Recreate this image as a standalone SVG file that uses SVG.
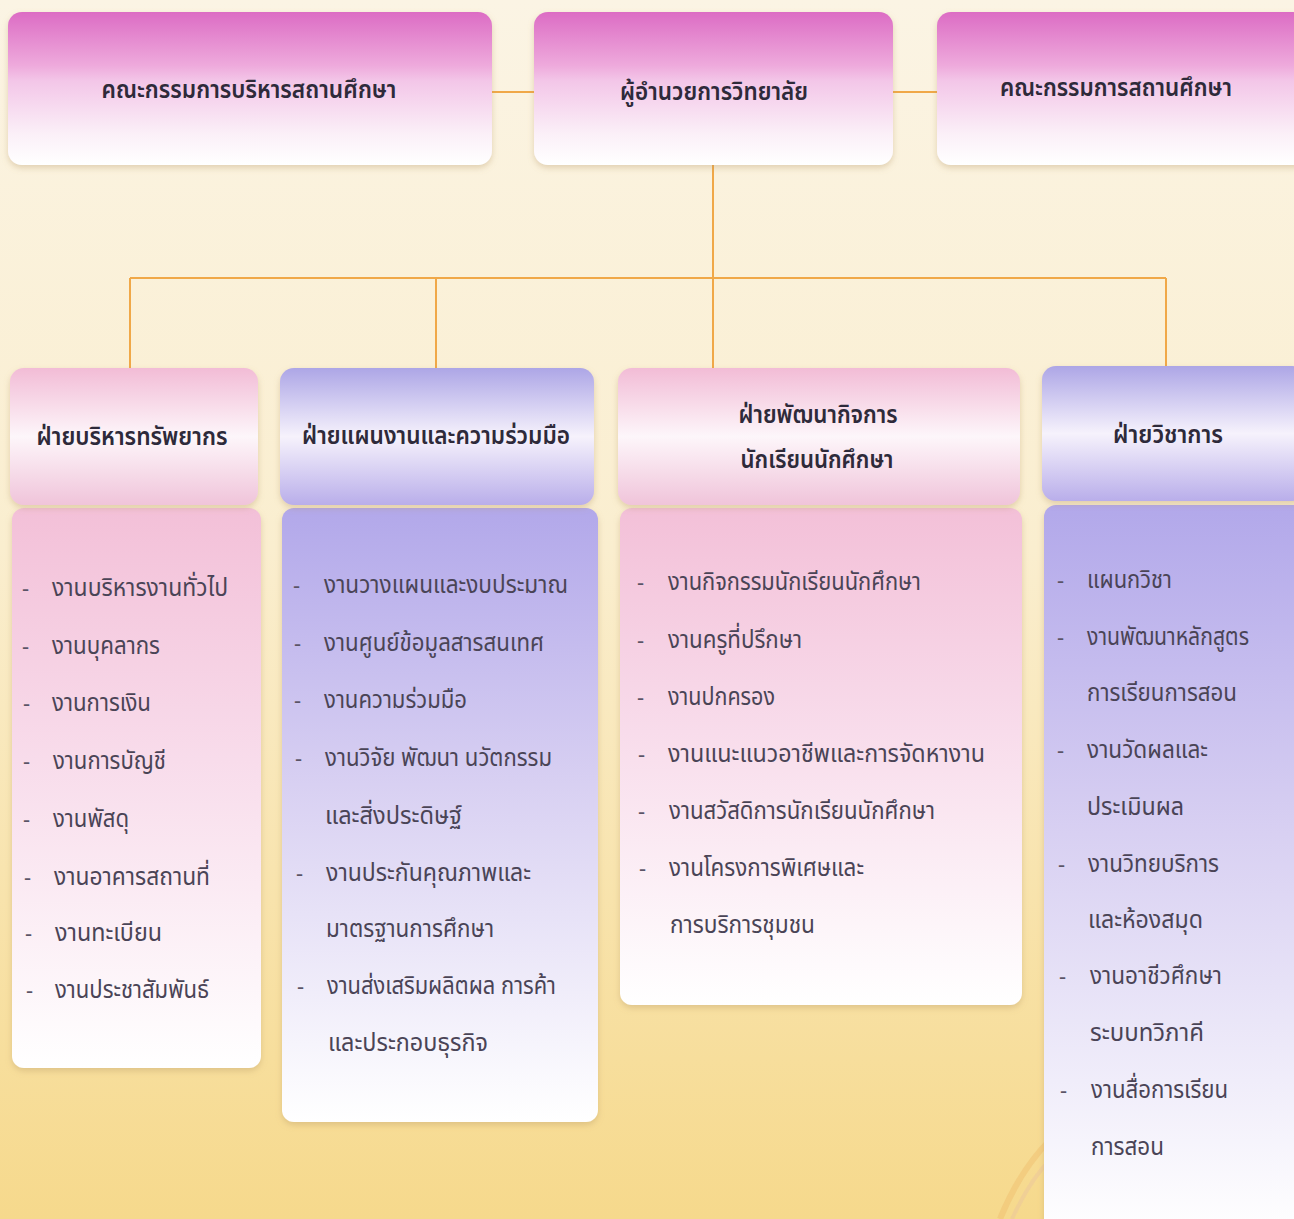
<svg xmlns="http://www.w3.org/2000/svg" width="1294" height="1219" viewBox="0 0 1294 1219">
<defs>
<linearGradient id="bg" x1="0" y1="0" x2="0" y2="1">
<stop offset="0" stop-color="#fbf4e4"/>
<stop offset="0.45" stop-color="#faeecf"/>
<stop offset="1" stop-color="#f6d98c"/>
</linearGradient>
<linearGradient id="gTop" x1="0" y1="0" x2="0" y2="1">
<stop offset="0" stop-color="#dc6cc4"/>
<stop offset="0.35" stop-color="#eeaadc"/>
<stop offset="0.45" stop-color="#f3c6e8"/>
<stop offset="0.8" stop-color="#fbf0f8"/>
<stop offset="1" stop-color="#ffffff"/>
</linearGradient>
<linearGradient id="gHeadPink" x1="0" y1="0" x2="0" y2="1">
<stop offset="0" stop-color="#f2bcd6"/>
<stop offset="0.5" stop-color="#fdf6fa"/>
<stop offset="1" stop-color="#f0c4da"/>
</linearGradient>
<linearGradient id="gHeadLav" x1="0" y1="0" x2="0" y2="1">
<stop offset="0" stop-color="#ada6e6"/>
<stop offset="0.5" stop-color="#f6f2fc"/>
<stop offset="1" stop-color="#b9aeea"/>
</linearGradient>
<linearGradient id="gBodyPink" x1="0" y1="0" x2="0" y2="1">
<stop offset="0" stop-color="#f3c0d8"/>
<stop offset="0.45" stop-color="#f8dceb"/>
<stop offset="1" stop-color="#ffffff"/>
</linearGradient>
<linearGradient id="gBodyLav" x1="0" y1="0" x2="0" y2="1">
<stop offset="0" stop-color="#b2a8ea"/>
<stop offset="0.45" stop-color="#d8d0f2"/>
<stop offset="1" stop-color="#ffffff"/>
</linearGradient>
<filter id="sh" x="-5%" y="-5%" width="110%" height="115%">
<feDropShadow dx="0" dy="3" stdDeviation="3" flood-color="#b09060" flood-opacity="0.35"/>
</filter>
<style>
.conn{stroke:#f0a848;stroke-width:2;fill:none}
.t{font-family:'Noto Sans Thai','Noto Sans','DejaVu Sans',sans-serif;fill:#3a3546}
.top{font-size:25px;font-weight:600;text-anchor:middle;fill:#2e2a3a}
.hd{font-size:25px;font-weight:600;text-anchor:middle;fill:#2e2a3a}
.it{font-size:25px;fill:#4a4456}
.ds{font-size:22px;fill:#5a5466}
</style>
</defs>
<rect x="0" y="0" width="1294" height="1219" fill="url(#bg)"/>
<path d="M1000 1219 Q1020 1170 1050 1140" stroke="#f0c070" stroke-width="6" fill="none" opacity="0.5"/>
<path d="M1012 1219 Q1030 1180 1050 1160" stroke="#e8c0a0" stroke-width="4" fill="none" opacity="0.4"/>

<g id="connectors">
<line class="conn" x1="492" y1="92" x2="534" y2="92"/>
<line class="conn" x1="893" y1="92" x2="937" y2="92"/>
<line class="conn" x1="713" y1="165" x2="713" y2="368"/>
<line class="conn" x1="130" y1="278" x2="1166" y2="278"/>
<line class="conn" x1="130" y1="278" x2="130" y2="370"/>
<line class="conn" x1="436" y1="278" x2="436" y2="368"/>
<line class="conn" x1="1166" y1="278" x2="1166" y2="366"/>
</g>

<g id="board-admin">
<rect x="8" y="12" width="484" height="153" rx="14" fill="url(#gTop)" filter="url(#sh)"/>
<text class="t top" x="249" y="98" textLength="295" lengthAdjust="spacingAndGlyphs">คณะกรรมการบริหารสถานศึกษา</text>
</g>
<g id="director">
<rect x="534" y="12" width="359" height="153" rx="14" fill="url(#gTop)" filter="url(#sh)"/>
<text class="t top" x="714" y="100" textLength="188" lengthAdjust="spacingAndGlyphs">ผู้อำนวยการวิทยาลัย</text>
</g>
<g id="board">
<rect x="937" y="12" width="370" height="153" rx="14" fill="url(#gTop)" filter="url(#sh)"/>
<text class="t top" x="1116" y="96" textLength="232" lengthAdjust="spacingAndGlyphs">คณะกรรมการสถานศึกษา</text>
</g>

<g id="resources">
<rect x="12" y="508" width="249" height="560" rx="12" fill="url(#gBodyPink)" filter="url(#sh)"/>
<rect x="10" y="368" width="248" height="137" rx="14" fill="url(#gHeadPink)" filter="url(#sh)"/>
<text class="t hd" x="132" y="445" textLength="191" lengthAdjust="spacingAndGlyphs">ฝ่ายบริหารทรัพยากร</text>
<g class="t">
<text class="ds" x="22" y="596">-</text><text class="it" x="52" y="596" textLength="176" lengthAdjust="spacingAndGlyphs">งานบริหารงานทั่วไป</text>
<text class="ds" x="22" y="654">-</text><text class="it" x="52" y="654" textLength="108" lengthAdjust="spacingAndGlyphs">งานบุคลากร</text>
<text class="ds" x="23" y="711">-</text><text class="it" x="52" y="711" textLength="99" lengthAdjust="spacingAndGlyphs">งานการเงิน</text>
<text class="ds" x="23" y="769">-</text><text class="it" x="53" y="769" textLength="113" lengthAdjust="spacingAndGlyphs">งานการบัญชี</text>
<text class="ds" x="23" y="827">-</text><text class="it" x="53" y="827" textLength="76" lengthAdjust="spacingAndGlyphs">งานพัสดุ</text>
<text class="ds" x="24" y="885">-</text><text class="it" x="54" y="885" textLength="156" lengthAdjust="spacingAndGlyphs">งานอาคารสถานที่</text>
<text class="ds" x="25" y="941">-</text><text class="it" x="55" y="941" textLength="107" lengthAdjust="spacingAndGlyphs">งานทะเบียน</text>
<text class="ds" x="26" y="998">-</text><text class="it" x="55" y="998" textLength="154" lengthAdjust="spacingAndGlyphs">งานประชาสัมพันธ์</text>
</g>
</g>

<g id="planning">
<rect x="282" y="508" width="316" height="614" rx="12" fill="url(#gBodyLav)" filter="url(#sh)"/>
<rect x="280" y="368" width="314" height="137" rx="14" fill="url(#gHeadLav)" filter="url(#sh)"/>
<text class="t hd" x="436" y="444" textLength="268" lengthAdjust="spacingAndGlyphs">ฝ่ายแผนงานและความร่วมมือ</text>
<g class="t">
<text class="ds" x="293" y="593">-</text><text class="it" x="324" y="593" textLength="244" lengthAdjust="spacingAndGlyphs">งานวางแผนและงบประมาณ</text>
<text class="ds" x="294" y="651">-</text><text class="it" x="324" y="651" textLength="220" lengthAdjust="spacingAndGlyphs">งานศูนย์ข้อมูลสารสนเทศ</text>
<text class="ds" x="294" y="708">-</text><text class="it" x="324" y="708" textLength="143" lengthAdjust="spacingAndGlyphs">งานความร่วมมือ</text>
<text class="ds" x="295" y="766">-</text><text class="it" x="325" y="766" textLength="227" lengthAdjust="spacingAndGlyphs">งานวิจัย พัฒนา นวัตกรรม</text>
<text class="it" x="325" y="824" textLength="137" lengthAdjust="spacingAndGlyphs">และสิ่งประดิษฐ์</text>
<text class="ds" x="296" y="881">-</text><text class="it" x="326" y="881" textLength="205" lengthAdjust="spacingAndGlyphs">งานประกันคุณภาพและ</text>
<text class="it" x="326" y="937" textLength="168" lengthAdjust="spacingAndGlyphs">มาตรฐานการศึกษา</text>
<text class="ds" x="297" y="994">-</text><text class="it" x="327" y="994" textLength="229" lengthAdjust="spacingAndGlyphs">งานส่งเสริมผลิตผล การค้า</text>
<text class="it" x="328" y="1051" textLength="160" lengthAdjust="spacingAndGlyphs">และประกอบธุรกิจ</text>
</g>
</g>

<g id="student-affairs">
<rect x="620" y="508" width="402" height="497" rx="12" fill="url(#gBodyPink)" filter="url(#sh)"/>
<rect x="618" y="368" width="402" height="137" rx="14" fill="url(#gHeadPink)" filter="url(#sh)"/>
<text class="t hd" x="818" y="423" textLength="159" lengthAdjust="spacingAndGlyphs">ฝ่ายพัฒนากิจการ</text>
<text class="t hd" x="817" y="468" textLength="153" lengthAdjust="spacingAndGlyphs">นักเรียนนักศึกษา</text>
<g class="t">
<text class="ds" x="637" y="590">-</text><text class="it" x="668" y="590" textLength="253" lengthAdjust="spacingAndGlyphs">งานกิจกรรมนักเรียนนักศึกษา</text>
<text class="ds" x="637" y="648">-</text><text class="it" x="668" y="648" textLength="134" lengthAdjust="spacingAndGlyphs">งานครูที่ปรึกษา</text>
<text class="ds" x="637" y="705">-</text><text class="it" x="668" y="705" textLength="107" lengthAdjust="spacingAndGlyphs">งานปกครอง</text>
<text class="ds" x="638" y="762">-</text><text class="it" x="668" y="762" textLength="317" lengthAdjust="spacingAndGlyphs">งานแนะแนวอาชีพและการจัดหางาน</text>
<text class="ds" x="638" y="819">-</text><text class="it" x="669" y="819" textLength="266" lengthAdjust="spacingAndGlyphs">งานสวัสดิการนักเรียนนักศึกษา</text>
<text class="ds" x="639" y="876">-</text><text class="it" x="669" y="876" textLength="195" lengthAdjust="spacingAndGlyphs">งานโครงการพิเศษและ</text>
<text class="it" x="670" y="933" textLength="145" lengthAdjust="spacingAndGlyphs">การบริการชุมชน</text>
</g>
</g>

<g id="academic">
<rect x="1044" y="505" width="262" height="730" rx="12" fill="url(#gBodyLav)" filter="url(#sh)"/>
<rect x="1042" y="366" width="264" height="135" rx="14" fill="url(#gHeadLav)" filter="url(#sh)"/>
<text class="t hd" x="1168" y="443" textLength="110" lengthAdjust="spacingAndGlyphs">ฝ่ายวิชาการ</text>
<g class="t">
<text class="ds" x="1057" y="588">-</text><text class="it" x="1087" y="588" textLength="85" lengthAdjust="spacingAndGlyphs">แผนกวิชา</text>
<text class="ds" x="1057" y="645">-</text><text class="it" x="1087" y="645" textLength="162" lengthAdjust="spacingAndGlyphs">งานพัฒนาหลักสูตร</text>
<text class="it" x="1087" y="701" textLength="150" lengthAdjust="spacingAndGlyphs">การเรียนการสอน</text>
<text class="ds" x="1057" y="758">-</text><text class="it" x="1087" y="758" textLength="121" lengthAdjust="spacingAndGlyphs">งานวัดผลและ</text>
<text class="it" x="1087" y="815" textLength="97" lengthAdjust="spacingAndGlyphs">ประเมินผล</text>
<text class="ds" x="1058" y="872">-</text><text class="it" x="1088" y="872" textLength="131" lengthAdjust="spacingAndGlyphs">งานวิทยบริการ</text>
<text class="it" x="1088" y="928" textLength="115" lengthAdjust="spacingAndGlyphs">และห้องสมุด</text>
<text class="ds" x="1059" y="984">-</text><text class="it" x="1090" y="984" textLength="132" lengthAdjust="spacingAndGlyphs">งานอาชีวศึกษา</text>
<text class="it" x="1090" y="1041" textLength="114" lengthAdjust="spacingAndGlyphs">ระบบทวิภาคี</text>
<text class="ds" x="1060" y="1098">-</text><text class="it" x="1091" y="1098" textLength="137" lengthAdjust="spacingAndGlyphs">งานสื่อการเรียน</text>
<text class="it" x="1091" y="1155" textLength="73" lengthAdjust="spacingAndGlyphs">การสอน</text>
</g>
</g>
</svg>
